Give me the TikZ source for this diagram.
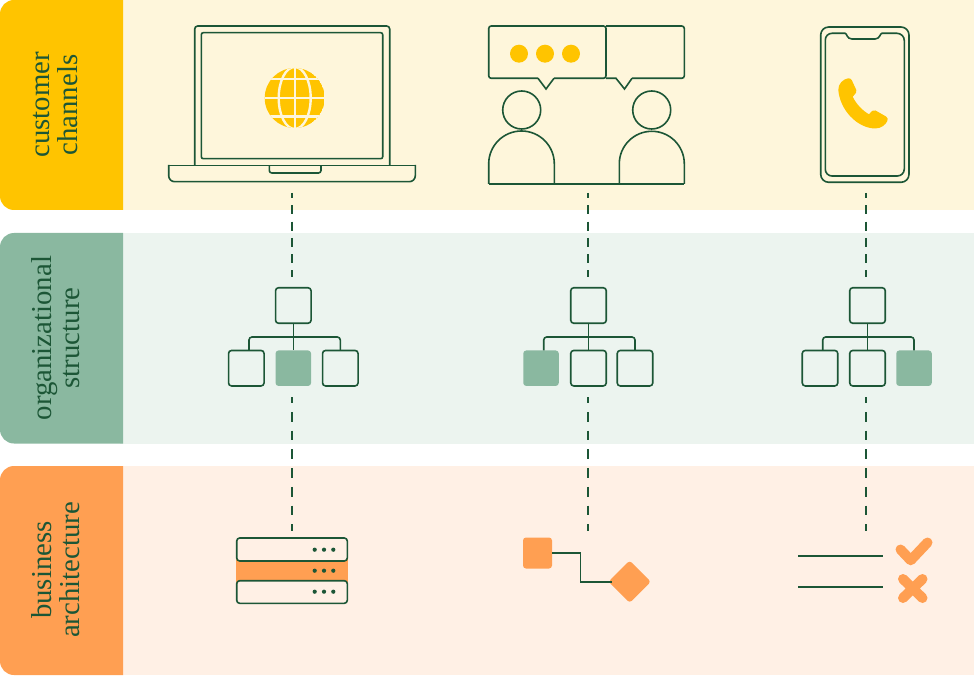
\documentclass[tikz,border=0pt]{standalone}
\usepackage{fontspec}
\setmainfont{Liberation Serif}
\definecolor{dk}{HTML}{1C5636}
\definecolor{yel}{HTML}{FFC400}
\definecolor{yell}{HTML}{FEF6DB}
\definecolor{grn}{HTML}{8AB8A0}
\definecolor{grnl}{HTML}{ECF4EF}
\definecolor{org}{HTML}{FF9F52}
\definecolor{orgl}{HTML}{FFF0E5}
\tikzset{
 ln/.style={draw=dk,line width=1.6pt},
 lab/.style={rotate=90,text=dk,font=\fontsize{28.8}{28}\selectfont,align=center,inner sep=0pt},
 obox/.style={ln,rounded corners=3pt,minimum width=35.5pt,minimum height=35.5pt,inner sep=0pt,outer sep=0pt},
 fbox/.style={obox,draw=none,fill=grn},
 dashu/.style={draw=dk,line width=1.4pt,dash pattern=on 9pt off 7.3pt,dash phase=4pt},
 dashl/.style={draw=dk,line width=1.4pt,dash pattern=on 9.7pt off 9pt,dash phase=3.7pt},
 gl/.style={draw=yell,line width=2.4pt},
 tdot/.style={circle,fill=dk,inner sep=0pt,minimum size=4.2pt},
 ydot/.style={circle,fill=yel,inner sep=0pt,minimum size=18pt},
}
\begin{document}
\begin{tikzpicture}[x=1pt,y=-1pt]
\useasboundingbox (0,0) rectangle (974,676);
% bands
\fill[yell] (120,0) rectangle (974,210);
\fill[grnl] (120,233) rectangle (974,443.5);
\fill[orgl] (120,466) rectangle (974,675);
\fill[yel] (123,0) -- (14,0) arc[start angle=90,end angle=180,radius=14pt] -- (0,196) arc[start angle=180,end angle=270,radius=14pt] -- (123,210) -- cycle;
\fill[grn] (123,233) -- (14,233) arc[start angle=90,end angle=180,radius=14pt] -- (0,429.5) arc[start angle=180,end angle=270,radius=14pt] -- (123,443.5) -- cycle;
\fill[org] (123,466) -- (14,466) arc[start angle=90,end angle=180,radius=14pt] -- (0,661) arc[start angle=180,end angle=270,radius=14pt] -- (123,675) -- cycle;
\node[lab] (t1) at (55.5,105) {customer\\channels};
\node[lab] (t2) at (55.5,338) {organizational\\structure};
\node[lab] (t3) at (55.5,570) {business\\architecture};
% laptop
\draw[ln,rounded corners=3pt] (194.7,165.7) -- (194.7,26) -- (389.7,26) -- (389.7,165.7);
\draw[ln,rounded corners=2pt] (201.3,32.7) rectangle (382.7,158.7);
\draw[ln] (168.7,165.7) -- (415.3,165.7);
\draw[ln,line cap=rect,rounded corners=6pt] (168.7,165.7) -- (168.7,181.7) -- (415.3,181.7) -- (415.3,165.7);
\draw[ln,rounded corners=2.5pt] (269.3,165.7) -- (269.3,173) -- (321,173) -- (321,165.7);
% globe
\begin{scope}
\clip (294.7,98) circle[radius=30pt];
\fill[yel] (294.7,98) circle[radius=30pt];
\draw[gl] (260,79) -- (330,79) (260,98) -- (330,98) (260,116.5) -- (330,116.5) (294.7,60) -- (294.7,135);
\draw[gl] (294.7,98) ellipse[x radius=16pt,y radius=31pt];
\end{scope}
% chat
\draw[ln,rounded corners=2.5pt] (606,26) -- (684.3,26) -- (684.3,78.3) -- (632,78.3);
\draw[ln] (632,78.3) -- (624.5,89) -- (616,78.3) -- (606,78.3);
\draw[ln,rounded corners=2.5pt] (538,78.3) -- (488.7,78.3) -- (488.7,26) -- (606,26) -- (606,78.3) -- (554,78.3);
\draw[ln] (538,78.3) -- (546,89) -- (554,78.3);
\node[ydot] (d1) at (519,53.7) {};
\node[ydot] (d2) at (545,53.7) {};
\node[ydot] (d3) at (571,53.7) {};
\draw[ln] (521.7,110) circle[radius=19pt];
\draw[ln] (651.7,110) circle[radius=19pt];
\draw[ln] (488.7,184) -- (488.7,163.8) arc[start angle=180,end angle=0,radius=32.8pt] -- (554.3,184);
\draw[ln] (619.3,184) -- (619.3,163.8) arc[start angle=180,end angle=0,radius=32.5pt] -- (684.3,184);
\draw[ln,line width=1.9pt] (488.7,184) -- (684.3,184);
% phone
\draw[ln,rounded corners=8pt] (820.7,27) rectangle (909,182.3);
\draw[ln] (832,33.3) -- (845,33.3) .. controls (847,33.3) and (846.7,39) .. (852,39) -- (875,39) .. controls (880,39) and (880,33.3) .. (882,33.3) -- (897,33.3) arc[start angle=90,end angle=0,radius=7.3pt] -- (904.3,169) arc[start angle=0,end angle=-90,radius=7pt] -- (832,176) arc[start angle=270,end angle=180,radius=6.7pt] -- (825.3,40) arc[start angle=180,end angle=90,radius=6.7pt] -- cycle;
\fill[yel] (838.3,90) .. controls (838,84) and (843,79) .. (848.3,78.3)
 .. controls (850,78) and (851,79) .. (851.7,80) -- (856.3,90)
 .. controls (857,92) and (856,93) .. (852.7,96.7)
 .. controls (856,104) and (863,111) .. (869,114.3)
 .. controls (872,111) and (873,109.5) .. (875.5,110.5) -- (886,116.5)
 .. controls (888,118) and (888,119) .. (887.3,121)
 .. controls (885.5,125) and (881,128.5) .. (875,128.5)
 .. controls (857,128) and (840,110) .. (838.3,90) -- cycle;
% org charts
\foreach \p/\tx/\ax/\bx/\cx/\fa/\fb/\fc in {
 A/293.3/246.3/293.3/340.3/obox/fbox/obox,
 B/588.5/541/588.5/635/fbox/obox/obox,
 C/867.5/820/867.5/914/obox/obox/fbox}{
 \node[obox] (\p t) at (\tx,305.5) {};
 \node[\fa] (\p a) at (\ax,368.2) {};
 \node[\fb] (\p b) at (\bx,368.2) {};
 \node[\fc] (\p c) at (\cx,368.2) {};
 \coordinate (\p h) at (\tx,337);
 \draw[ln,rounded corners=3pt] ([xshift=2.7pt]\p a.north) |- (\p h) -| (\p c.north);
 \draw[ln] (\p t.south) -- (\p b.north);
}
% dashed links
\coordinate (u1) at (292,193); \coordinate (v1) at (292,277);
\coordinate (w1) at (292,397); \coordinate (z1) at (292,531);
\coordinate (u2) at (588,193); \coordinate (v2) at (588,277);
\coordinate (w2) at (588,397); \coordinate (z2) at (588,531);
\coordinate (u3) at (866,193); \coordinate (v3) at (866,277);
\coordinate (w3) at (866,397); \coordinate (z3) at (866,531);
\foreach \i in {1,2,3}{
 \draw[dashu] (u\i) -- (v\i);
 \draw[dashl] (w\i) -- (z\i);
}
% server
\fill[org] (236.2,557) rectangle (348,585);
\node[ln,fill=orgl,rounded corners=3pt,minimum width=110.6pt,minimum height=23pt,inner sep=0pt,outer sep=0pt] (s1) at (292,549.5) {};
\node[ln,fill=orgl,rounded corners=3pt,minimum width=110.6pt,minimum height=22.6pt,inner sep=0pt,outer sep=0pt] (s3) at (292,592) {};
\foreach \y in {549.7,570.7,591.7}\foreach \x in {314.7,324,333.3}{\node[tdot] at (\x,\y) {};}
% flow
\node[fill=org,rounded corners=3pt,minimum width=29pt,minimum height=31pt,inner sep=0pt,outer sep=0pt] (fs) at (537.5,553) {};
\node[fill=org,rounded corners=3pt,minimum size=30pt,inner sep=0pt,outer sep=0pt,rotate=45] (fd) at (629.7,581.7) {};
\coordinate (fm) at (580.3,553);
\coordinate (fe) at (612,581.7);
\draw[ln] (fs.east) -- (fm) |- (fe);
% check list
\coordinate (l1) at (798.3,555.7); \coordinate (l2) at (883.3,555.7);
\coordinate (l3) at (798.3,587); \coordinate (l4) at (883.3,587);
\draw[draw=dk,line width=1.6pt] (l1) -- (l2) (l3) -- (l4);
\draw[org,line width=10pt,line cap=round,line join=round] (900.5,549.5) -- (910.7,560.3) -- (927.5,542.5);
\draw[org,line width=10pt,line cap=round] (903,579) -- (922.5,598) (922.5,579) -- (903,598);
\end{tikzpicture}
\end{document}
